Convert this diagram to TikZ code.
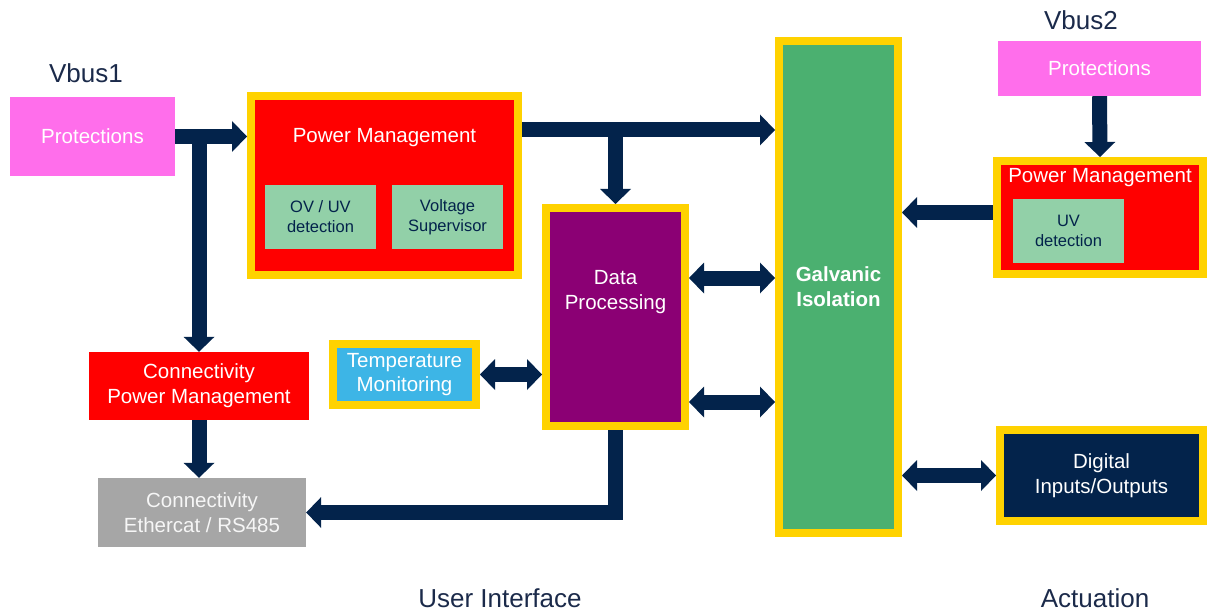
\documentclass[tikz,border=0pt]{standalone}
\usepackage{fontspec}
\setmainfont{Liberation Sans}
\usetikzlibrary{arrows.meta}
\definecolor{navy}{HTML}{03234B}
\definecolor{gold}{HTML}{FFD200}
\definecolor{pink}{HTML}{FF6EEB}
\definecolor{pmred}{HTML}{FF0000}
\definecolor{subgreen}{HTML}{92D0A8}
\definecolor{galvgreen}{HTML}{4BB070}
\definecolor{dppurple}{HTML}{8B0074}
\definecolor{tempblue}{HTML}{3DB5E6}
\definecolor{conngray}{HTML}{A6A6A6}
\definecolor{labelnavy}{HTML}{1B2A4A}

\begin{document}
\begin{tikzpicture}[x=1pt, y=-1pt,
        box/.style={rectangle, inner sep=0pt, align=center, text=white, font=\fontsize{20.5}{25}\selectfont},
        goldbox/.style={box, draw=gold, line width=8pt},
        subbox/.style={rectangle, inner sep=0pt, fill=subgreen, text=navy, align=center, font=\fontsize{16.5}{20}\selectfont},
        busname/.style={text=labelnavy, font=\fontsize{26}{30}\selectfont},
        sidename/.style={text=labelnavy, font=\fontsize{26}{30}\selectfont},
        >={Triangle[length=15pt, width=31pt, line width=0pt]},
        arr/.style={draw=navy, line width=15pt, ->},
        darr/.style={draw=navy, line width=15pt, <->}]
            \useasboundingbox (0,0) rectangle (1209,612);

            \node (vbus1) at (86,73) [busname] {Vbus1};
            \node (prot1) at (92.5,136.5) [box, fill=pink, minimum width=165, minimum height=79] {Protections};
            \node (pm1) at (384.5,185.5) [goldbox, fill=pmred, minimum width=267, minimum height=179] {};
            \node (pm1title) at ([yshift=-46pt]pm1.north) [box] {Power Management};
            \node (ovuv) at (320.5,217) [subbox, minimum width=111, minimum height=64] {OV / UV\\detection};
            \node (vsup) at (447.5,217) [subbox, minimum width=111, minimum height=64] {Voltage\\Supervisor};
            \node (cpm) at (199,386) [box, fill=pmred, minimum width=220, minimum height=68] {Connectivity\\Power Management};
            \node (conn) at (202,512.5) [box, fill=conngray, text=white!93!gray, minimum width=208, minimum height=69] {Connectivity\\Ethercat / RS485};
            \node (temp) at (404.5,374.5) [goldbox, fill=tempblue, minimum width=143, minimum height=61, font=\fontsize{20.5}{24}\selectfont] {Temperature\\Monitoring};
            \node (data) at (615.5,317) [goldbox, fill=dppurple, minimum width=139, minimum height=218] {};
            \node (datatitle) at ([yshift=25pt]data.center) [box] {Data\\Processing};
            \node (galv) at (838.5,287) [goldbox, fill=galvgreen, minimum width=119, minimum height=492, font=\bfseries\fontsize{20.5}{25}\selectfont] {Galvanic\\Isolation};
            \node (vbus2) at (1081,20) [busname] {Vbus2};
            \node (prot2) at (1099.5,68.5) [box, fill=pink, minimum width=203, minimum height=55] {Protections};
            \node (pm2) at (1100,217.5) [goldbox, fill=pmred, minimum width=206, minimum height=113] {};
            \node (pm2title) at ([yshift=-21pt]pm2.north) [box] {Power Management};
            \node (uvdet) at (1068.5,231) [subbox, minimum width=111, minimum height=64] {UV\\detection};
            \node (dio) at (1101.5,475.5) [goldbox, fill=navy, minimum width=203, minimum height=91] {Digital\\Inputs/Outputs};
            \node (uilabel) at (500,598) [sidename] {User Interface};
            \node (actlabel) at (1095,598) [sidename] {Actuation};

            \coordinate (busA) at ([yshift=-38pt]pm1.north east);
            \coordinate (dlinkA) at ([yshift=39pt]data.east);
            \coordinate (dlinkB) at ([yshift=-85pt]data.east);
            \coordinate (pmlink) at ([yshift=5pt]pm2.west);

            \draw[arr] (prot1.east) -- (pm1.west |- prot1.east);
            \draw[arr] (cpm.north |- prot1.east) -- (cpm.north);
            \draw[arr] (cpm.south) -- (cpm.south |- conn.north);
            \draw[arr] (busA) -- (galv.west |- busA);
            \draw[arr] (data.north |- busA) -- (data.north);
            \draw[darr] (dlinkA) -- (galv.west |- dlinkA);
            \draw[darr] (dlinkB) -- (galv.west |- dlinkB);
            \draw[darr] (temp.east) -- (data.west |- temp.east);
            \draw[arr] (data.south) |- (conn.east);
            \draw[arr] (prot2.south) -- (pm2.north);
            \draw[arr] (pmlink) -- (galv.east |- pmlink);
            \draw[darr] (dio.west) -- (galv.east |- dio.west);
        \end{tikzpicture}
\end{document}
